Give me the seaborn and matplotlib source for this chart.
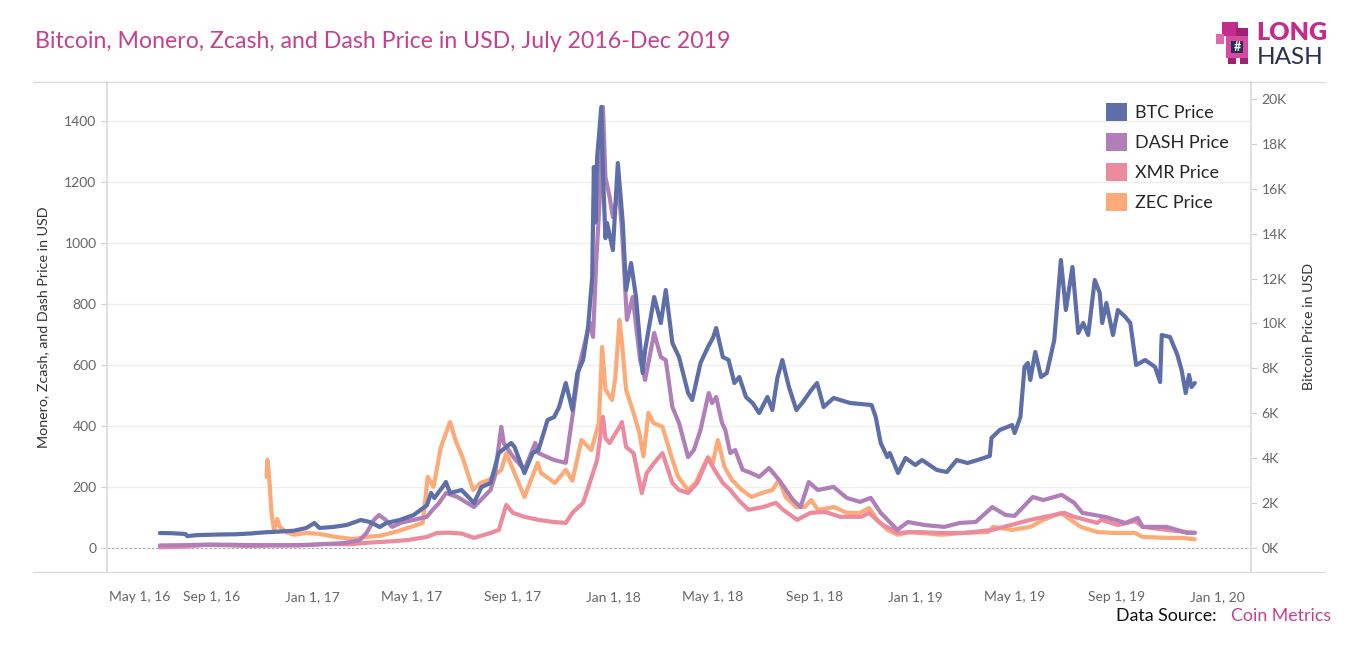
import seaborn as sns
import matplotlib.pyplot as plt
import matplotlib.dates as mdates
from matplotlib.patches import Patch, Rectangle
from matplotlib.lines import Line2D
import pandas as pd

# Prix (USD)
btc_dates = ["2016-07-01", "2016-07-15", "2016-08-01", "2016-08-03", "2016-08-15", "2016-09-10", "2016-10-01",
             "2016-10-20", "2016-11-05", "2016-11-22", "2016-12-10", "2016-12-25", "2017-01-04", "2017-01-10",
             "2017-01-26", "2017-02-12", "2017-03-01", "2017-03-12", "2017-03-24", "2017-04-01", "2017-04-17",
             "2017-05-04", "2017-05-20", "2017-05-25", "2017-05-29", "2017-06-08", "2017-06-12", "2017-06-17",
             "2017-07-01", "2017-07-16", "2017-07-25", "2017-08-05", "2017-08-15", "2017-08-30", "2017-09-03",
             "2017-09-15", "2017-09-25", "2017-10-02", "2017-10-13", "2017-10-21", "2017-10-27", "2017-11-04",
             "2017-11-12", "2017-11-18", "2017-11-25", "2017-12-01", "2017-12-06", "2017-12-08", "2017-12-10",
             "2017-12-12", "2017-12-17", "2017-12-19", "2017-12-22", "2017-12-24", "2017-12-31", "2018-01-06",
             "2018-01-12", "2018-01-16", "2018-01-22", "2018-01-28", "2018-02-05", "2018-02-08", "2018-02-19",
             "2018-02-27", "2018-03-05", "2018-03-13", "2018-03-21", "2018-04-01", "2018-04-06", "2018-04-16",
             "2018-04-25", "2018-05-01", "2018-05-05", "2018-05-13", "2018-05-20", "2018-05-27", "2018-06-02",
             "2018-06-10", "2018-06-18", "2018-06-26", "2018-07-06", "2018-07-12", "2018-07-18", "2018-07-24",
             "2018-08-01", "2018-08-10", "2018-08-17", "2018-08-28", "2018-09-04", "2018-09-12", "2018-09-24",
             "2018-10-14", "2018-11-09", "2018-11-14", "2018-11-20", "2018-11-28", "2018-12-01", "2018-12-11",
             "2018-12-20", "2019-01-01", "2019-01-09", "2019-01-27", "2019-02-08", "2019-02-20", "2019-03-05",
             "2019-03-20", "2019-04-01", "2019-04-03", "2019-04-13", "2019-04-28", "2019-05-01", "2019-05-08",
             "2019-05-13", "2019-05-17", "2019-05-20", "2019-05-26", "2019-06-02", "2019-06-09", "2019-06-18",
             "2019-06-26", "2019-07-02", "2019-07-10", "2019-07-17", "2019-07-23", "2019-07-29", "2019-08-06",
             "2019-08-12", "2019-08-15", "2019-08-20", "2019-08-28", "2019-09-03", "2019-09-12", "2019-09-18",
             "2019-09-25", "2019-10-06", "2019-10-18", "2019-10-24", "2019-10-26", "2019-11-05", "2019-11-14",
             "2019-11-19", "2019-11-24", "2019-11-28", "2019-12-01", "2019-12-05"]
btc_price = [668, 660, 624, 530, 575, 600, 612, 650, 700, 730, 770, 890, 1113, 890,
             935, 1024, 1247, 1158, 935, 1113, 1247, 1470, 1900, 2450, 2227, 2717, 2940, 2450,
             2583, 2004, 2717, 2895, 4231, 4677, 4500, 3340, 4231, 4365, 5701, 5835, 6280, 7349,
             6147, 7795, 8374, 9843, 12070, 16970, 14500, 17415, 19642, 16702, 13800, 14476, 13273, 17147,
             14476, 11491, 12694, 11180, 7795, 8819, 11180, 10021, 11491, 9131, 8507, 6904, 6592, 8240,
             8953, 9353, 9799, 8507, 8374, 7349, 7617, 6726, 6458, 6013, 6726, 6147, 7572, 8374,
             7171, 6147, 6458, 7037, 7349, 6280, 6681, 6458, 6369, 5835, 4677, 4053, 4231, 3340,
             4009, 3697, 3919, 3474, 3385, 3919, 3786, 3950, 4100, 4900, 5256, 5478, 5122, 5835,
             8062, 8240, 7483, 8730, 7617, 7795, 9264, 12828, 10600, 12516, 9576, 10021, 9487, 11937,
             11358, 10021, 10912, 9487, 10600, 10289, 10021, 8151, 8374, 8062, 7394, 9487, 9398, 8596,
             7928, 6904, 7706, 7171, 7349]

dash_dates = ["2016-07-01", "2016-08-01", "2016-09-01", "2016-10-01", "2016-11-01", "2016-12-01", "2016-12-31",
              "2017-01-20", "2017-02-10", "2017-02-28", "2017-03-08", "2017-03-17", "2017-03-23", "2017-03-31",
              "2017-04-08", "2017-04-18", "2017-05-04", "2017-05-20", "2017-05-27", "2017-06-04", "2017-06-12",
              "2017-06-26", "2017-07-16", "2017-08-05", "2017-08-10", "2017-08-18", "2017-08-21", "2017-09-01",
              "2017-09-15", "2017-09-28", "2017-10-02", "2017-10-20", "2017-11-04", "2017-11-12", "2017-11-20",
              "2017-12-03", "2017-12-07", "2017-12-11", "2017-12-15", "2017-12-19", "2017-12-22", "2017-12-27",
              "2017-12-31", "2018-01-07", "2018-01-11", "2018-01-17", "2018-01-24", "2018-02-02", "2018-02-08",
              "2018-02-19", "2018-02-27", "2018-03-05", "2018-03-13", "2018-03-21", "2018-04-01", "2018-04-08",
              "2018-04-16", "2018-04-26", "2018-04-30", "2018-05-05", "2018-05-12", "2018-05-16", "2018-05-22",
              "2018-05-28", "2018-06-06", "2018-06-16", "2018-06-26", "2018-07-08", "2018-07-20", "2018-08-06",
              "2018-08-15", "2018-08-25", "2018-09-05", "2018-09-24", "2018-10-10", "2018-10-26", "2018-11-08",
              "2018-11-20", "2018-12-02", "2018-12-10", "2018-12-23", "2019-01-12", "2019-02-05", "2019-02-24",
              "2019-03-15", "2019-04-04", "2019-04-20", "2019-05-01", "2019-05-23", "2019-06-05", "2019-06-27",
              "2019-07-12", "2019-07-22", "2019-08-18", "2019-09-12", "2019-09-27", "2019-10-03", "2019-11-01",
              "2019-11-26", "2019-12-05"]
dash_price = [8, 9, 11, 10, 9, 9, 10,
              13, 16, 26, 49, 92, 108, 92,
              69, 82, 92, 102, 125, 148, 180,
              167, 134, 190, 233, 397, 344, 300,
              256, 344, 311, 289, 279, 430, 593,
              738, 692, 944, 1141, 1446, 1216, 1151,
              1085, 1174, 1043, 748, 823, 616, 551,
              705, 626, 616, 462, 410, 298, 321,
              387, 508, 475, 495, 410, 387, 311,
              321, 256, 246, 233, 262, 223, 157,
              134, 216, 190, 200, 164, 151, 164,
              115, 82, 59, 85, 75, 69, 82,
              85, 134, 108, 105, 167, 157, 174,
              148, 115, 102, 82, 98, 69, 69,
              49, 50]

xmr_dates = ["2016-07-01", "2016-08-01", "2016-08-25", "2016-09-15", "2016-10-15", "2016-11-15", "2016-12-15",
             "2017-01-15", "2017-02-15", "2017-03-15", "2017-04-10", "2017-04-27", "2017-05-20", "2017-06-01",
             "2017-06-15", "2017-07-01", "2017-07-16", "2017-08-05", "2017-08-15", "2017-08-24", "2017-09-01",
             "2017-09-15", "2017-10-02", "2017-10-20", "2017-11-04", "2017-11-12", "2017-11-25", "2017-12-03",
             "2017-12-12", "2017-12-19", "2017-12-22", "2017-12-27", "2018-01-08", "2018-01-11", "2018-01-16",
             "2018-01-25", "2018-02-04", "2018-02-10", "2018-02-19", "2018-03-01", "2018-03-13", "2018-03-21",
             "2018-04-01", "2018-04-12", "2018-04-25", "2018-05-03", "2018-05-13", "2018-05-22", "2018-06-01",
             "2018-06-13", "2018-07-01", "2018-07-16", "2018-07-25", "2018-08-11", "2018-08-27", "2018-09-14",
             "2018-10-02", "2018-10-28", "2018-11-06", "2018-11-19", "2018-12-10", "2019-01-01", "2019-02-01",
             "2019-03-01", "2019-04-04", "2019-05-20", "2019-06-30", "2019-07-12", "2019-08-09", "2019-08-14",
             "2019-09-03", "2019-09-24", "2019-10-03", "2019-11-01", "2019-12-05"]
xmr_price = [2, 4, 10, 9, 6, 8, 8,
             13, 12, 18, 22, 26, 36, 49,
             50, 47, 33, 49, 59, 141, 115,
             102, 92, 85, 82, 115, 148, 213,
             289, 430, 360, 344, 397, 413, 331,
             311, 180, 246, 279, 311, 213, 190,
             180, 213, 295, 256, 213, 190, 157,
             125, 134, 148, 125, 92, 115, 118,
             102, 102, 115, 82, 49, 52, 49,
             49, 59, 92, 115, 102, 82, 92,
             75, 88, 69, 59, 49]

zec_dates = ["2016-11-07", "2016-11-08", "2016-11-10", "2016-11-13", "2016-11-16", "2016-11-20", "2016-11-23",
             "2016-12-01", "2016-12-10", "2016-12-25", "2017-01-10", "2017-01-30", "2017-02-20", "2017-03-08",
             "2017-03-25", "2017-04-15", "2017-05-01", "2017-05-15", "2017-05-21", "2017-05-28", "2017-06-06",
             "2017-06-17", "2017-06-24", "2017-07-02", "2017-07-15", "2017-07-24", "2017-08-03", "2017-08-18",
             "2017-08-24", "2017-09-15", "2017-10-01", "2017-10-05", "2017-10-22", "2017-11-04", "2017-11-12",
             "2017-11-23", "2017-12-05", "2017-12-14", "2017-12-18", "2017-12-22", "2017-12-30", "2018-01-03",
             "2018-01-08", "2018-01-11", "2018-01-16", "2018-01-24", "2018-02-01", "2018-02-06", "2018-02-12",
             "2018-02-18", "2018-03-01", "2018-03-12", "2018-03-20", "2018-04-01", "2018-04-10", "2018-04-25",
             "2018-05-01", "2018-05-07", "2018-05-15", "2018-05-24", "2018-06-05", "2018-06-17", "2018-06-29",
             "2018-07-12", "2018-07-20", "2018-07-28", "2018-08-10", "2018-08-20", "2018-08-28", "2018-09-05",
             "2018-09-25", "2018-10-10", "2018-10-26", "2018-11-06", "2018-11-16", "2018-11-28", "2018-12-11",
             "2018-12-23", "2019-01-08", "2019-02-02", "2019-02-26", "2019-03-30", "2019-04-05", "2019-04-28",
             "2019-05-20", "2019-06-05", "2019-06-26", "2019-07-08", "2019-07-20", "2019-08-09", "2019-08-30",
             "2019-09-24", "2019-10-03", "2019-11-01", "2019-11-20", "2019-12-05"]
zec_price = [233, 289, 240, 115, 59, 95, 69,
             52, 43, 49, 46, 36, 29, 36,
             40, 55, 69, 82, 233, 200, 331,
             413, 350, 298, 190, 213, 223, 256,
             311, 167, 279, 246, 213, 256, 220,
             354, 321, 410, 659, 520, 485, 560,
             748, 672, 518, 452, 377, 300, 443,
             410, 397, 298, 233, 190, 213, 298,
             279, 354, 266, 223, 190, 167, 180,
             190, 223, 167, 134, 134, 157, 125,
             134, 115, 115, 131, 92, 59, 43,
             52, 49, 43, 49, 52, 69, 59,
             69, 92, 115, 92, 69, 52, 49,
             49, 36, 33, 33, 28]

left_ticks = [0, 200, 400, 600, 800, 1000, 1200, 1400]
right_ticks = [0, 2000, 4000, 6000, 8000, 10000, 12000, 14000, 16000, 18000, 20000]
right_labels = ["0K", "2K", "4K", "6K", "8K", "10K", "12K", "14K", "16K", "18K", "20K"]

colors = {"BTC Price": "#5d6ea8", "DASH Price": "#b07fb7", "XMR Price": "#eb8b9d", "ZEC Price": "#fcab78"}

sns.set_theme(style="white")
plt.rcParams["font.family"] = ["Lato", "DejaVu Sans"]

fig = plt.figure(figsize=(13.66, 6.5), dpi=100)
ax = fig.add_axes([107 / 1366, 1 - 572 / 650, (1251 - 107) / 1366, (572 - 82) / 650])

lw = 3.0
for name, dates, vals in [("ZEC Price", zec_dates, zec_price),
                          ("XMR Price", xmr_dates, xmr_price),
                          ("DASH Price", dash_dates, dash_price)]:
    df = pd.DataFrame({"date": pd.to_datetime(dates), "price": vals})
    sns.lineplot(data=df, x="date", y="price", ax=ax, color=colors[name], linewidth=lw,
                 estimator=None, legend=False)

ax2 = ax.twinx()
df_btc = pd.DataFrame({"date": pd.to_datetime(btc_dates), "price": btc_price})
sns.lineplot(data=df_btc, x="date", y="price", ax=ax2, color=colors["BTC Price"], linewidth=lw,
             estimator=None, legend=False)

ax.set_xlim(pd.Timestamp("2016-04-28"), pd.Timestamp("2020-02-11"))
ax.set_ylim(-79, 1528)
ax2.set_ylim(-1069, 20757)

# Grille et ligne zéro
ax.set_yticks(left_ticks)
ax.grid(axis="y", color="#efefef", linewidth=1)
ax.grid(axis="x", visible=False)
ax.axhline(0, color="#aaaaaa", linewidth=0.8, linestyle=(0, (2, 2)), zorder=1)

ax2.set_yticks(right_ticks)
ax2.set_yticklabels(right_labels)

ax.xaxis.set_major_locator(mdates.MonthLocator(bymonth=[1, 5, 9]))
ax.xaxis.set_major_formatter(mdates.DateFormatter("%b %-d, %y"))

for a in (ax, ax2):
    for s in a.spines.values():
        s.set_visible(False)
    a.tick_params(axis="both", colors="#d0d0d0", labelcolor="#666666", labelsize=10, length=4, width=0.8)
    a.set_xlabel("")
ax.tick_params(axis="x", pad=10)
ax.spines["left"].set_visible(True)
ax.spines["left"].set_color("#dcdcdc")
ax2.spines["right"].set_visible(True)
ax2.spines["right"].set_color("#dcdcdc")
labels = ax.get_xticklabels()
if labels:
    labels[0].set_ha("left")

ax.set_ylabel("Monero, Zcash, and Dash Price in USD", fontsize=10.3, color="#333333", labelpad=11)
ax2.set_ylabel("Bitcoin Price in USD", fontsize=10.3, color="#333333", labelpad=12)

# Cadre horizontal pleine largeur
for yy in (82, 572):
    fig.add_artist(Line2D([33 / 1366, 1325 / 1366], [1 - yy / 650, 1 - yy / 650],
                          color="#dcdcdc", linewidth=1, transform=fig.transFigure))

# Légende
handles = [Patch(facecolor=colors[k], edgecolor="none", label=k) for k in colors]
ax2.legend(handles=handles, loc="upper left", bbox_to_anchor=(1099 / 1366, 1 - 96 / 650),
           bbox_transform=fig.transFigure, frameon=False, fontsize=13, handlelength=1.15,
           handleheight=1.15, handletextpad=0.45, labelspacing=0.66, borderaxespad=0)

# Titre
fig.text(35 / 1366, 1 - 42 / 650, "Bitcoin, Monero, Zcash, and Dash Price in USD, July 2016-Dec 2019",
         fontsize=16.7, color="#c4418f", va="center", ha="left")

# Logo LongHash
fig.text(1256 / 1366, 1 - 33 / 650, "LONG", fontsize=18, fontweight="heavy", color="#c52a8c",
         va="center", ha="left")
fig.text(1257 / 1366, 1 - 57 / 650, "HASH", fontsize=17.5, fontweight="normal", color="#2b2f52",
         va="center", ha="left")
for (x0, y0, w, h, c) in [(1222, 22, 16, 14, "#c52a8c"), (1236, 28, 12, 10, "#a21f74"),
                          (1226, 36, 22, 22, "#d64aa0"), (1216, 34, 8, 10, "#e067b0"),
                          (1231, 41, 12, 12, "#2b2f52"), (1228, 58, 8, 6, "#a21f74"),
                          (1240, 58, 8, 6, "#a21f74")]:
    fig.add_artist(Rectangle((x0 / 1366, 1 - (y0 + h) / 650), w / 1366, h / 650,
                             facecolor=c, edgecolor="none", transform=fig.transFigure))
fig.text(1237 / 1366, 1 - 47 / 650, "#", fontsize=9, fontweight="bold", color="white",
         va="center", ha="center")

# Source
fig.text(1217 / 1366, 1 - 616 / 650, "Data Source:", fontsize=12.8, color="#111111",
         va="center", ha="right")
fig.text(1231 / 1366, 1 - 616 / 650, "Coin Metrics", fontsize=12.8, color="#c4418f",
         va="center", ha="left")

fig.savefig("out.png", dpi=100)
